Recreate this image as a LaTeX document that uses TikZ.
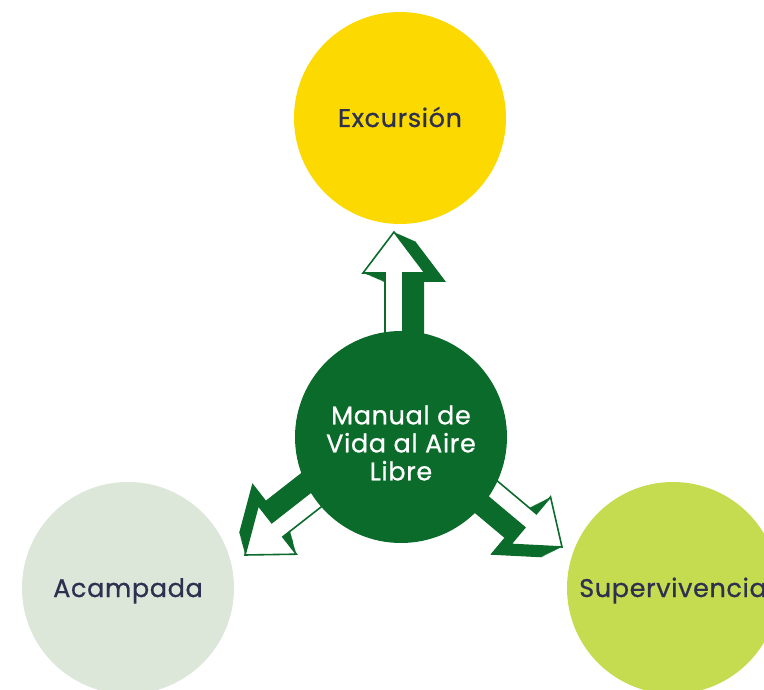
\documentclass[tikz,border=0pt]{standalone}
\usepackage{fontspec}
\setmainfont{Poppins}
\newfontfamily\lblfont{Poppins}[FakeBold=0.8, LetterSpace=2.5]
\definecolor{dkgreen}{HTML}{0B6B2B}
\definecolor{yel}{HTML}{FCD900}
\definecolor{pale}{HTML}{DCE7DA}
\definecolor{lime}{HTML}{C6DC50}
\definecolor{navy}{HTML}{2E3050}
\tikzset{
  circ/.style={circle, minimum size=212pt, inner sep=0pt, text height=18pt, text depth=0pt,
    font=\lblfont\fontsize{25.5}{28}\selectfont, text=navy},
  fatarrow/.pic={
    \foreach \t in {0,0.05,...,1.01}
      \fill[dkgreen, shift={(-9*\t,-21*\t)}] (0,0) -- (-41,31) -- (-41,9) -- (-150,9)
        -- (-150,-9) -- (-41,-9) -- (-41,-31) -- cycle;
    \filldraw[fill=white, draw=dkgreen, line width=1.6pt, line join=miter]
      (0,0) -- (-41,31) -- (-41,9) -- (-150,9) -- (-150,-9) -- (-41,-9) -- (-41,-31) -- cycle;
  }
}
\begin{document}
\begin{tikzpicture}[x=1pt,y=1pt]
\useasboundingbox (0,0) rectangle (764,689);
\clip (0,0) rectangle (764,689);
\node[circ, fill=yel] (exc) at (400,571) {Excursión};
\node[circ, fill=pale] (acp) at (128,101) {Acampada};
\node[circ, fill=lime] (sup) at (673,101) {Supervivencia};
\coordinate (tipU) at (394,457);
\coordinate (tipL) at (245,134);
\coordinate (tipR) at (562,142);
\pic[rotate=90] at (tipU) {fatarrow};
\pic[rotate=218] at (tipL) {fatarrow};
\pic[rotate=-40] at (tipR) {fatarrow};
\node[circle, minimum size=212pt, inner sep=0pt, fill=dkgreen] (ctr) at (401,252) {};
\node[text=white, align=center, font=\lblfont\fontsize{25.5}{28}\selectfont] (ctxt) at ([yshift=-6pt]ctr.center) {Manual de\\Vida al Aire\\Libre};
\end{tikzpicture}
\end{document}
